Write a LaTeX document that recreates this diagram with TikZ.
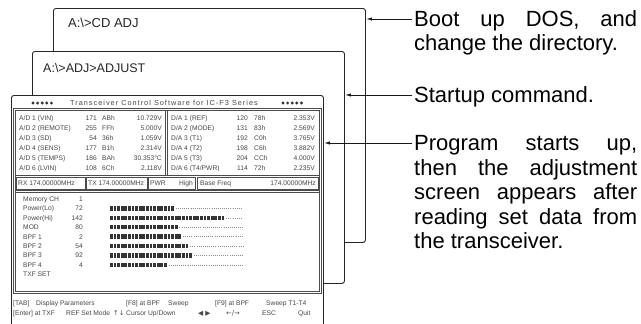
\documentclass[tikz,border=0pt]{standalone}
\usepackage{fontspec}
\setmainfont{Liberation Sans}
\newfontfamily\dvsym{DejaVu Sans}
\newfontfamily\spacedfont[LetterSpace=14]{Liberation Sans}
\usetikzlibrary{arrows.meta}
\begin{document}
\begin{tikzpicture}[x=1pt,y=-1pt,
  win/.style={draw=black!85, line width=0.9pt, fill=white, rounded corners=2.5pt, anchor=north west, inner sep=0pt},
  arr/.style={draw=black!90, line width=0.8pt, -{Latex[length=6pt,width=3.2pt]}},
  note/.style={anchor=west, inner sep=0pt, text height=15.8pt, text depth=0pt, font=\fontsize{22}{24}\selectfont},
  cmd/.style={anchor=west, inner sep=0pt, text height=9pt, text depth=0pt, text=black!85},
  scr/.style={inner sep=0pt, text height=4.8pt, text depth=0pt, font=\fontsize{6.7}{7}\selectfont, text=black!72},
  frm/.style={draw=black!70, line width=0.5pt},
  blk/.style={fill=black!80},
  dts/.style={draw=black!45, line width=0.6pt, dash pattern=on 0.6pt off 1.5pt}
]
\useasboundingbox (0,0) rectangle (641,324);
\begin{scope}
\clip (0,0) rectangle (641,324);
% windows
\node[win, minimum width=312pt, minimum height=234pt] (w1) at (53,8) {};
\node[cmd, font=\fontsize{13}{15}\selectfont] (c1) at (68,23) {A:\textbackslash>CD ADJ};
\node[win, minimum width=312pt, minimum height=232pt] (w2) at (32,51) {};
\node[cmd, font=\fontsize{12.5}{15}\selectfont] (c2) at (43,68) {A:\textbackslash>ADJ>ADJUST};
\node[win, minimum width=312pt, minimum height=240pt] (w3) at (11,95) {};

% title row
\foreach \k in {0,...,4} {
  \fill[black!80] ({33+4.6*\k},103) circle (1.6pt);
  \fill[black!80] ({283+4.6*\k},103) circle (1.6pt);
}
\node[scr, font=\spacedfont\fontsize{7.3}{8}\selectfont] (ttl) at (164,103) {Transceiver Control Software for IC-F3 Series};

% frames
\draw[frm] (13,108) rectangle (321,293);
\draw[frm] (15,110) rectangle (319,291);
\draw[frm] (165,110) -- (165,175);
\draw[frm] (167,110) -- (167,175);
\draw[frm] (15,175) -- (319,175);
\draw[frm] (15,190) -- (319,190);
\draw[frm] (15,192) -- (319,192);
\draw[frm] (16,177) rectangle (85,189);
\draw[frm] (86,177) rectangle (147,189);
\draw[frm] (148,177) rectangle (195,189);
\draw[frm] (197,177) rectangle (318,189);

% A/D rows
\foreach \lab/\val/\hx/\vt [count=\i] in {
  {A/D 1 (VIN)}/171/ABh/10.729V,
  {A/D 2 (REMOTE)}/255/FFh/5.000V,
  {A/D 3 (SD)}/54/36h/1.059V,
  {A/D 4 (SENS)}/177/B1h/2.314V,
  {A/D 5 (TEMPS)}/186/BAh/30.353°C,
  {A/D 6 (LVIN)}/108/6Ch/2.118V} {
  \node[scr, anchor=west] (adl\i) at (19,{108+10*\i}) {\lab};
  \node[scr, anchor=east] (adv\i) at (97,{108+10*\i}) {\val};
  \node[scr, anchor=west] (adh\i) at (102,{108+10*\i}) {\hx};
  \node[scr, anchor=east] (adu\i) at (162,{108+10*\i}) {\vt};
}
% D/A rows
\foreach \lab/\val/\hx/\vt [count=\i] in {
  {D/A 1 (REF)}/120/78h/2.353V,
  {D/A 2 (MODE)}/131/83h/2.569V,
  {D/A 3 (T1)}/192/C0h/3.765V,
  {D/A 4 (T2)}/198/C6h/3.882V,
  {D/A 5 (T3)}/204/CCh/4.000V,
  {D/A 6 (T4/PWR)}/114/72h/2.235V} {
  \node[scr, anchor=west] (dal\i) at (171,{108+10*\i}) {\lab};
  \node[scr, anchor=east] (dav\i) at (248,{108+10*\i}) {\val};
  \node[scr, anchor=west] (dah\i) at (254,{108+10*\i}) {\hx};
  \node[scr, anchor=east] (dau\i) at (315,{108+10*\i}) {\vt};
}

% frequency row
\node[scr, anchor=west] (f1) at (18,183) {RX 174.00000MHz};
\node[scr, anchor=west] (f2) at (88,183) {TX 174.00000MHz};
\node[scr, anchor=west] (f3) at (150,183) {PWR};
\node[scr, anchor=east] (f3b) at (193,183) {High};
\node[scr, anchor=west] (f4) at (200,183) {Base Freq};
\node[scr, anchor=east] (f4b) at (316,183) {174.00000MHz};

% lower panel
\node[scr, anchor=west] (mc) at (23,199) {Memory CH};
\node[scr, anchor=east] (mcv) at (83,199) {1};
\foreach \lab/\val/\fend [count=\i] in {
  Power(Lo)/72/177, Power(Hi)/142/227, MOD/80/180,
  BPF 1/2/185, BPF 2/54/190, BPF 3/92/193, BPF 4/4/170} {
  \pgfmathsetmacro{\yy}{199+9.4*\i}
  \node[scr, anchor=west] (pl\i) at (23,\yy) {\lab};
  \node[scr, anchor=east] (pv\i) at (83,\yy) {\val};
  \pgfmathtruncatemacro{\nb}{(\fend-110)/3.6}
  \foreach \k in {1,...,\nb} {
    \fill[blk] ({110+3.6*(\k-1)},\yy-2.2) rectangle ++(2.7,4.4);
  }
  \draw[dts] ({110+3.6*\nb+1},\yy) -- (243,\yy);
}
\node[scr, anchor=west] (txf) at (23,274.5) {TXF SET};

% status lines
\foreach \xx/\tx [count=\i] in {13/[TAB], 36/{Display Parameters}, 126/{[F8] at BPF}, 168/Sweep, 215/{[F9] at BPF}, 266/{Sweep T1-T4}} {
  \node[scr, anchor=west] (sa\i) at (\xx,303) {\tx};
}
\foreach \xx/\tx [count=\i] in {13/{[Enter] at TXF}, 66/{REF Set Mode}, 113/{\dvsym ↑↓}, 126/{Cursor Up/Down}, 198/{\dvsym ◀ ▶}, 226/{\dvsym ←/→}, 262/ESC, 298/Quit} {
  \node[scr, anchor=west] (sb\i) at (\xx,313) {\tx};
}
\end{scope}

% notes
\node[note] (t1a) at (414,19) {\makebox[223pt][s]{Boot\hfill up\hfill DOS,\hfill and}};
\node[note] (t1b) at (414,43) {change the directory.};
\node[note] (t2) at (414,95) {Startup command.};
\node[note] (t3a) at (414,143) {\makebox[223pt][s]{Program\hfill starts\hfill up,}};
\node[note] (t3b) at (414,167.5) {\makebox[223pt][s]{then\hfill the\hfill adjustment}};
\node[note] (t3c) at (414,192) {\makebox[223pt][s]{screen\hfill appears\hfill after}};
\node[note] (t3d) at (414,216.5) {\makebox[223pt][s]{reading\hfill set\hfill data\hfill from}};
\node[note] (t3e) at (414,241) {the transceiver.};

% connectors
\draw[arr] ([xshift=-2pt]t1a.west) -- (t1a.west -| w1.east);
\draw[arr] ([xshift=-2pt]t2.west) -- (t2.west -| w2.east);
\draw[arr] ([xshift=-2pt]t3a.west) -- (t3a.west -| w3.east);
\end{tikzpicture}
\end{document}
